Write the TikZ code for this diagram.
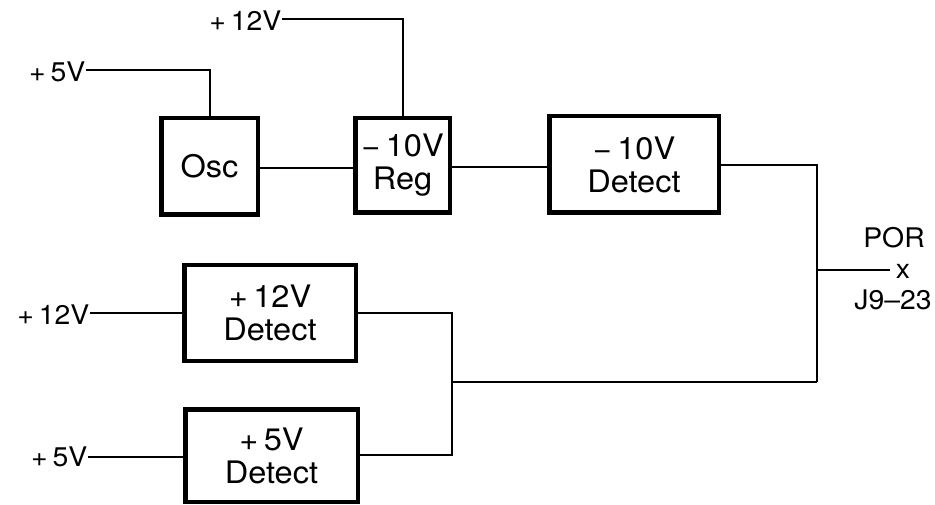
\documentclass[tikz,border=0pt]{standalone}
\usepackage{fontspec}
\setmainfont{TeX Gyre Heros}[FakeStretch=1.05]
\newcommand{\gp}{\hspace{0.18em}}
\begin{document}
\begin{tikzpicture}[x=1pt,y=-1pt,
  blk/.style={draw=black,line width=4.5pt,rectangle,align=center,inner sep=0pt,
    font=\fontsize{31}{33}\selectfont},
  lbl/.style={inner sep=0.5pt,font=\fontsize{27}{29}\selectfont},
  wire/.style={line width=2pt}]
\useasboundingbox (0,0) rectangle (935,505);
\fill[white] (0,0) rectangle (935,505);
% blocks
\node[blk,minimum width=96.5pt,minimum height=96.5pt] (osc) at (209.5,166.5) {Osc};
\node[blk,minimum width=94.5pt,minimum height=94.5pt] (reg) at (402.5,165.5) {−\gp10V\\Reg};
\node[blk,minimum width=169.5pt,minimum height=96.5pt] (d10) at (634,164.5) {−\gp10V\\Detect};
\node[blk,minimum width=171.5pt,minimum height=95.5pt] (d12) at (270,313) {+\gp12V\\Detect};
\node[blk,minimum width=172.5pt,minimum height=92.5pt] (d5) at (271.5,455.5) {+\gp5V\\Detect};
% labels
\node[lbl,anchor=east] (in5a) at (86,72) {+\gp5V};
\node[lbl,anchor=east] (in12a) at (282,21) {+\gp12V};
\node[lbl,anchor=east] (in12b) at (90,315) {+\gp12V};
\node[lbl,anchor=east] (in5b) at (88,457) {+\gp5V};
\node[lbl] (por) at (894,238) {POR};
\node[lbl] (px) at (903,271) {x};
\node[lbl] (j9) at (893,300) {J9–23};
% junction coordinates
\coordinate (jr) at (817,270);
\coordinate (jb) at (817,382);
\coordinate (jl) at (452,382);
\coordinate (pend) at (890,270);
% wires
\draw[wire] (86,70) -| (osc.north);
\draw[wire] (282,19) -| (reg.north);
\draw[wire] (osc.east |- 0,168) -- (reg.west |- 0,168);
\draw[wire] (reg.east |- 0,167) -- (d10.west |- 0,167);
\draw[wire] (d10.east |- 0,165) -| (jb);
\draw[wire] (jr) -- (pend);
\draw[wire] (90,313) -- (d12.west |- 0,313);
\draw[wire] (88,457) -- (d5.west |- 0,457);
\draw[wire] (d12.east |- 0,313) -| (jl |- 0,455) -- (d5.east |- 0,455);
\draw[wire] (jl) -- (jb);
\end{tikzpicture}
\end{document}
